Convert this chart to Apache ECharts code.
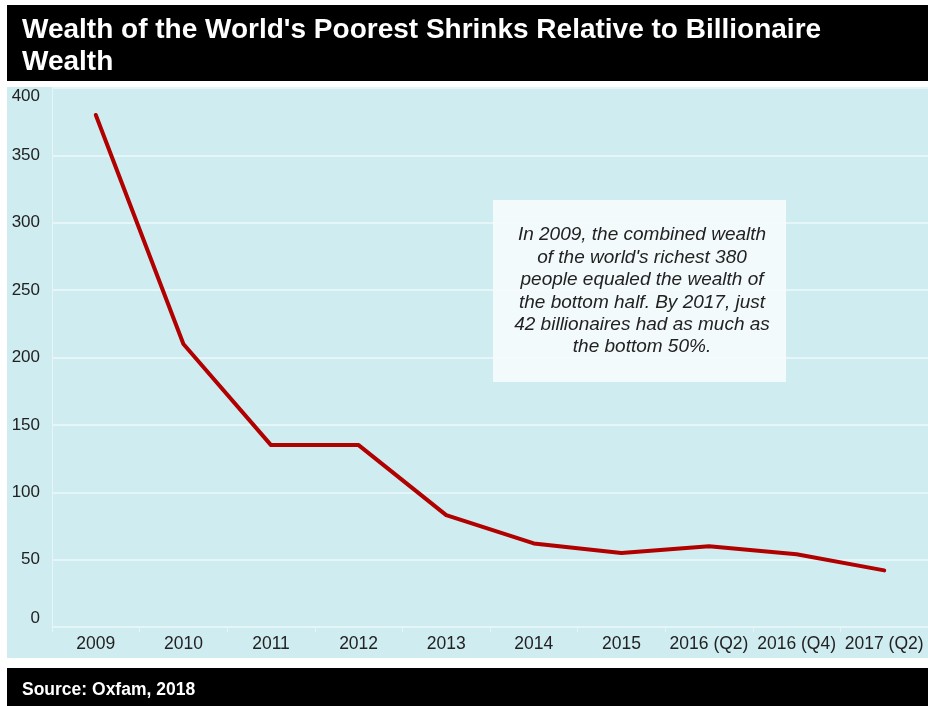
<!DOCTYPE html>
<html>
<head>
<meta charset="utf-8">
<script src="https://cdn.jsdelivr.net/npm/echarts@6/dist/echarts.min.js"></script>
<style>
  html, body { margin: 0; padding: 0; background: #fff; }
  #chart { width: 928px; height: 706px; }
</style>
</head>
<body>
<div id="chart"></div>
<script>
  // data
  var categories = ['2009', '2010', '2011', '2012', '2013', '2014', '2015', '2016 (Q2)', '2016 (Q4)', '2017 (Q2)'];
  var billionaires = [380, 210, 135, 135, 83, 62, 55, 60, 54, 42];
  var yTicks = { min: 0, max: 400, step: 50 };

  var titleText = "Wealth of the World's Poorest Shrinks Relative to Billionaire\nWealth";
  var noteText = "In 2009, the combined wealth\nof the world's richest 380\npeople equaled the wealth of\nthe bottom half. By 2017, just\n42 billionaires had as much as\nthe bottom 50%.";
  var sourceText = 'Source: Oxfam, 2018';

  var font = '"Liberation Sans", Arial, sans-serif';
  var myChart = echarts.init(document.getElementById('chart'));

  var option = {
    backgroundColor: '#ffffff',
    animation: false,
    grid: { left: 52, right: -6, top: 88, bottom: 79 },
    graphic: [
      // title band
      { type: 'rect', left: 7, top: 5, z: -10, shape: { width: 921, height: 76 }, style: { fill: '#000' } },
      { type: 'text', left: 22, top: 14, z: 10,
        style: { text: titleText, fill: '#fff', font: 'bold 28px ' + font, lineHeight: 32 } },
      // plot panel
      { type: 'rect', left: 7, top: 87, z: -10, shape: { width: 921, height: 571 }, style: { fill: '#cfecf0' } },
      // footer band
      { type: 'rect', left: 7, top: 668, z: -10, shape: { width: 921, height: 38 }, style: { fill: '#000' } },
      { type: 'text', left: 22, top: 681, z: 10,
        style: { text: sourceText, fill: '#fff', font: 'bold 17.5px ' + font } },
      // note box
      { type: 'rect', left: 493, top: 200, z: 5, shape: { width: 293, height: 182 },
        style: { fill: 'rgba(246,251,252,0.92)' } },
      { type: 'text', x: 642, y: 224, z: 10,
        style: { text: noteText, fill: '#222', font: 'italic 19px ' + font, lineHeight: 22.4,
                 align: 'center', verticalAlign: 'top' } }
    ],
    xAxis: {
      type: 'category',
      data: categories,
      boundaryGap: true,
      axisLine: { show: true, lineStyle: { color: '#e6f5f7', width: 1 } },
      axisTick: { show: true, length: 5, lineStyle: { color: '#e6f5f7' } },
      axisLabel: { color: '#222', fontSize: 17.5, fontFamily: font, margin: 8, interval: 0 },
      splitLine: { show: false }
    },
    yAxis: {
      type: 'value',
      min: yTicks.min,
      max: yTicks.max,
      interval: yTicks.step,
      axisLine: { show: true, lineStyle: { color: '#e6f5f7', width: 1 } },
      axisTick: { show: false },
      axisLabel: { color: '#222', fontSize: 17, fontFamily: font, margin: 12,
                   verticalAlignMinLabel: 'bottom', verticalAlignMaxLabel: 'top' },
      splitLine: { show: true, lineStyle: { color: '#eef8fa', width: 1.5 } }
    },
    series: [
      {
        type: 'line',
        data: billionaires,
        symbol: 'none',
        lineStyle: { color: '#b00000', width: 4, cap: 'round', join: 'round' },
        z: 3
      }
    ]
  };

  myChart.setOption(option);
</script>
</body>
</html>
